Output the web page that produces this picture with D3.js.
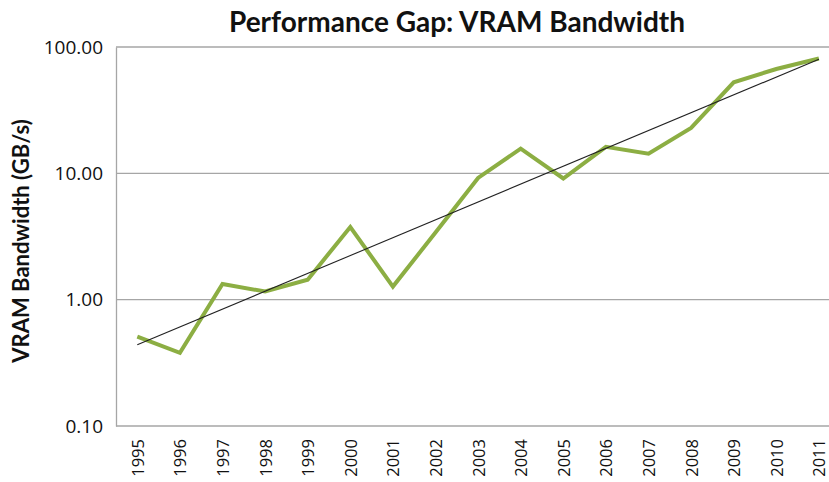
<!DOCTYPE html>
<html><head><meta charset="utf-8">
<script src="https://cdn.jsdelivr.net/npm/d3@7"></script>
<style>body{margin:0;background:#fff;}svg{display:block;}</style>
</head><body>
<svg id="chart" width="829" height="482"></svg>
<script>
const years = ["1995","1996","1997","1998","1999","2000","2001","2002","2003","2004","2005","2006","2007","2008","2009","2010","2011"];
const bandwidth = [0.51,0.38,1.33,1.16,1.44,3.76,1.27,3.4,9.2,15.7,9.1,16.2,14.3,22.9,52.5,67,81];
const yTicks = [0.1,1,10,100];
const titleText = "Performance Gap: VRAM Bandwidth";
const yTitle = "VRAM Bandwidth (GB/s)";

(function(){
const svg = d3.select("#chart");
const mLeft = 116, mTop = 47, mBottom = 426, bandW = 42.6;
const x = d3.scalePoint().domain(years).range([mLeft + bandW/2, mLeft + bandW/2 + bandW*(years.length-1)]);
const y = d3.scaleLog().domain([0.1,100]).range([mBottom, mTop]);

// gridlines
svg.append("g").selectAll("line").data(yTicks.slice(1)).join("line")
  .attr("x1", mLeft).attr("x2", 829).attr("y1", d=>y(d)).attr("y2", d=>y(d))
  .attr("stroke", "#a6a6a6").attr("stroke-width", 1.3);

// y axis
const yAxis = svg.append("g").attr("transform", `translate(${mLeft},0)`)
  .call(d3.axisLeft(y).tickValues(yTicks).tickFormat(d3.format(".2f")).tickSize(0).tickPadding(13));
yAxis.select(".domain").attr("stroke", "#a6a6a6").attr("stroke-width", 1.3);
yAxis.selectAll("text").attr("font-family", "Open Sans, sans-serif").attr("font-size", 19).attr("fill", "#111");

// x axis
const xAxis = svg.append("g").attr("transform", `translate(0,${mBottom})`)
  .call(d3.axisBottom(x).tickSize(0).tickPadding(0));
xAxis.select(".domain").remove();
svg.append("line").attr("x1", mLeft).attr("x2", 829).attr("y1", mBottom).attr("y2", mBottom)
  .attr("stroke", "#a6a6a6").attr("stroke-width", 1.3);
xAxis.selectAll("text")
  .attr("font-family", "Open Sans, sans-serif").attr("font-size", 16.5).attr("fill", "#111")
  .attr("text-anchor", "end").attr("dy", null)
  .attr("transform", "translate(6,13) rotate(-90)");

// data line
const line = d3.line().x((d,i)=>x(years[i])).y(d=>y(d));
svg.append("path").datum(bandwidth).attr("d", line)
  .attr("fill", "none").attr("stroke", "#8cae43").attr("stroke-width", 4).attr("stroke-linejoin", "miter");

// exponential trendline (least squares on log10)
const n = bandwidth.length;
const xs = d3.range(n), ls = bandwidth.map(v=>Math.log10(v));
const mx = d3.mean(xs), my = d3.mean(ls);
const slope = d3.sum(xs, (xi,i)=>(xi-mx)*(ls[i]-my)) / d3.sum(xs, xi=>(xi-mx)**2);
const icpt = my - slope*mx;
const trend = [0, n-1].map(i => ({yr: years[i], v: Math.pow(10, icpt + slope*i)}));
svg.append("line")
  .attr("x1", x(trend[0].yr)).attr("y1", y(trend[0].v))
  .attr("x2", x(trend[1].yr)).attr("y2", y(trend[1].v))
  .attr("stroke", "#222").attr("stroke-width", 1.1);

// titles
svg.append("text").attr("x", 457).attr("y", 32).attr("text-anchor", "middle")
  .attr("font-family", "Lato, sans-serif").attr("font-weight", "bold").attr("font-size", 28).attr("fill", "#111")
  .text(titleText);
svg.append("text").attr("transform", "translate(29,241) rotate(-90)").attr("text-anchor", "middle")
  .attr("font-family", "Lato, sans-serif").attr("font-weight", "bold").attr("font-size", 22).attr("fill", "#111")
  .text(yTitle);
})();
</script>
</body></html>
